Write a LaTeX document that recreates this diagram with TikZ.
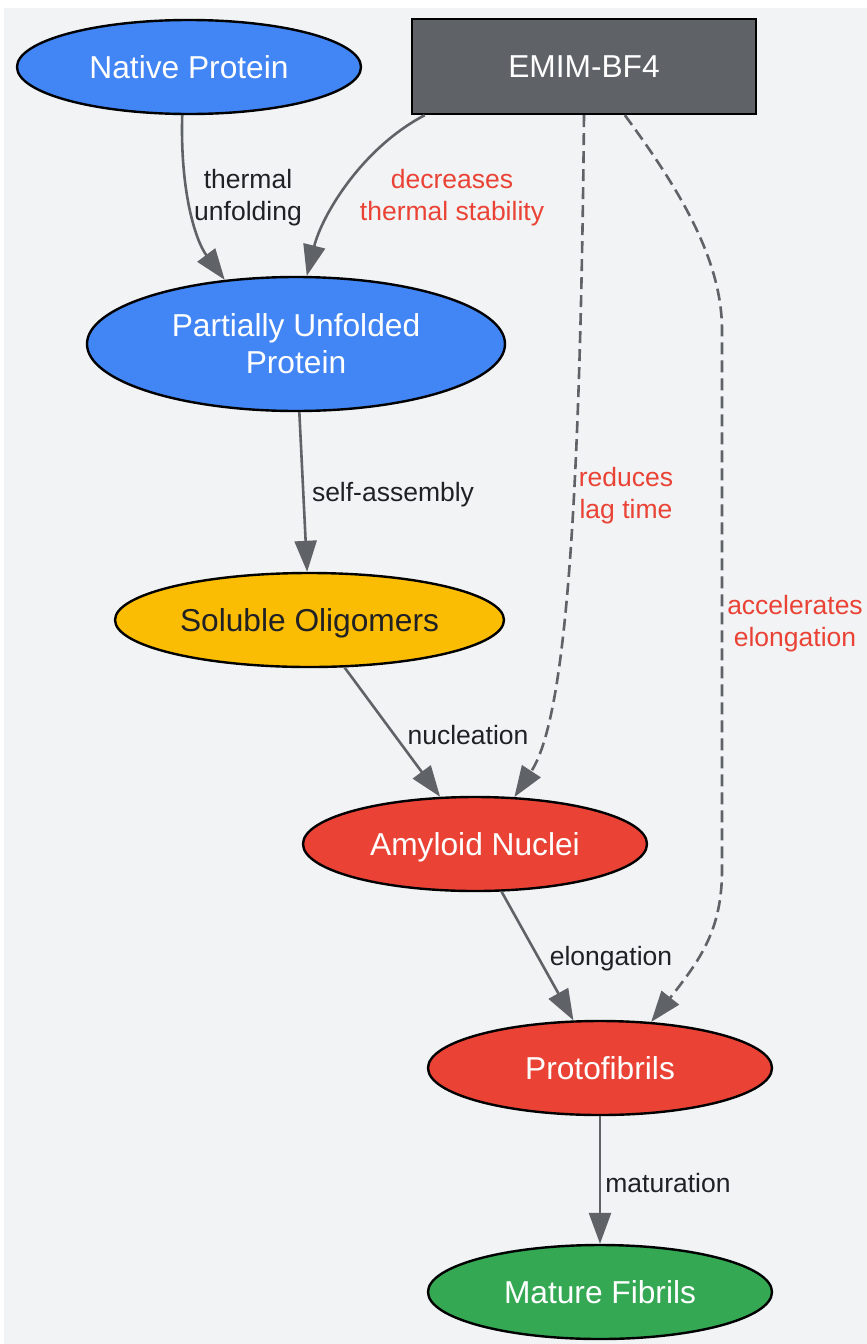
\documentclass[tikz,border=0pt]{standalone}
\usepackage{fontspec}
\setmainfont{Liberation Sans}
\usetikzlibrary{shapes.geometric,arrows.meta}
\definecolor{bgc}{HTML}{F1F3F4}
\definecolor{gblue}{HTML}{4285F4}
\definecolor{ggray}{HTML}{5F6368}
\definecolor{gyellow}{HTML}{FBBC04}
\definecolor{gred}{HTML}{EA4335}
\definecolor{ggreen}{HTML}{34A853}
\definecolor{dark}{HTML}{202124}
\begin{document}
\begin{tikzpicture}[x=1pt,y=-1pt,
  ell/.style={ellipse, draw=black, line width=2.4pt, inner sep=0pt,
    minimum width=344pt, minimum height=94pt,
    font=\fontsize{31.7}{37}\selectfont, align=center},
  one/.style={text height=22.7pt, text depth=0pt},
  edge/.style={draw=ggray, line width=2.6pt, -{Triangle[length=31pt,width=22pt]}},
  dedge/.style={edge, dash pattern=on 12pt off 6pt},
  lab/.style={font=\fontsize{26.5}{32}\selectfont, text=dark, align=center, inner sep=0pt},
  rlab/.style={lab, text=gred}]
\useasboundingbox (0,0) rectangle (867,1344);
\fill[white] (0,0) rectangle (867,1344);
\fill[bgc] (4,8) rectangle (867,1344);

\node[ell, one, fill=gblue, text=white] (np) at (189,67) {Native Protein};
\node[draw=black, line width=2.4pt, fill=ggray, text=white, minimum width=344pt, minimum height=95pt,
  inner sep=0pt, one, font=\fontsize{31.7}{37}\selectfont] (em) at (584,66.5) {EMIM-BF4};
\node[ell, fill=gblue, text=white, minimum width=418pt, minimum height=134pt] (pu) at (296,344) {Partially Unfolded\\Protein};
\node[ell, one, fill=gyellow, text=dark, minimum width=389pt] (so) at (309.5,620) {Soluble Oligomers};
\node[ell, one, fill=gred, text=white] (am) at (475,844) {Amyloid Nuclei};
\node[ell, one, fill=gred, text=white] (pf) at (600,1068) {Protofibrils};
\node[ell, one, fill=ggreen, text=white] (mf) at (600,1292) {Mature Fibrils};

\draw[edge] (np.262) .. controls (180,190) and (195,240) .. (pu.138);
\draw[edge] (em.197) .. controls (362,148) and (322,215) .. (pu.81.6);
\draw[dedge] (em.south) .. controls (580,520) and (565,720) .. (am.50.2);
\draw[dedge] (em.-50.5) .. controls (680,190) and (722,260) .. (722,330) -- (722,870)
  .. controls (722,930) and (700,960) .. (pf.42.6);
\draw[edge] (pu) -- (so);
\draw[edge] (so) -- (am);
\draw[edge] (am) -- (pf);
\draw[edge] (pf) -- (mf);

\node[lab] (l1) at (248,198) {thermal\\unfolding};
\node[rlab] (l2) at (452,198) {decreases\\thermal stability};
\node[rlab] (l3) at (626,496) {reduces\\lag time};
\node[rlab] (l4) at (795,624) {accelerates\\elongation};
\node[lab] (l5) at (393,495) {self-assembly};
\node[lab] (l6) at (468,735) {nucleation};
\node[lab] (l7) at (611,959) {elongation};
\node[lab] (l8) at (668,1183) {maturation};
\end{tikzpicture}
\end{document}
